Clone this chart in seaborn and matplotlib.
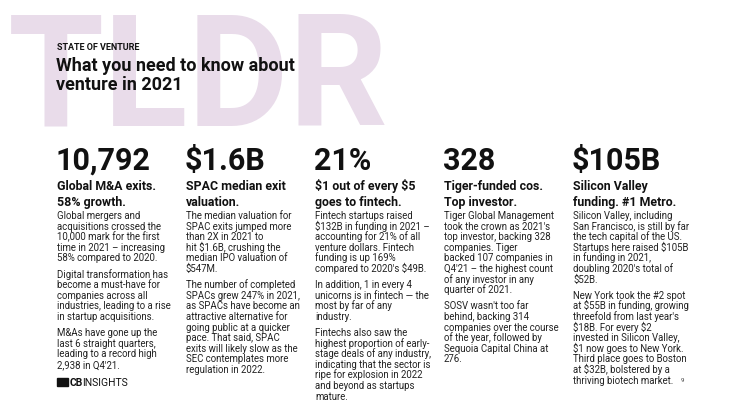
import matplotlib
matplotlib.use("Agg")
import matplotlib.pyplot as plt
import seaborn as sns

sns.set_theme(style="white")
plt.rcParams['font.family'] = ['Roboto', 'DejaVu Sans']
plt.rcParams['text.parse_math'] = False

kicker = "STATE OF VENTURE"
title_lines = ["What you need to know about", "venture in 2021"]
big_numbers = ["10,792", "$1.6B", "21%", "328", "$105B"]
headlines = [["Global M&A exits.", "58% growth."],
             ["SPAC median exit", "valuation."],
             ["$1 out of every $5", "goes to fintech."],
             ["Tiger-funded cos.", "Top investor."],
             ["Silicon Valley", "funding. #1 Metro."]]
bodies = [
    [["Global mergers and", "acquisitions crossed the", "10,000 mark for the first", "time in 2021 – increasing", "58% compared to 2020."],
     ["Digital transformation has", "become a must-have for", "companies across all", "industries, leading to a rise", "in startup acquisitions."],
     ["M&As have gone up the", "last 6 straight quarters,", "leading to a record high", "2,938 in Q4'21."]],
    [["The median valuation for", "SPAC exits jumped more", "than 2X in 2021 to", "hit $1.6B, crushing the", "median IPO valuation of", "$547M."],
     ["The number of completed", "SPACs grew 247% in 2021,", "as SPACs have become an", "attractive alternative for", "going public at a quicker", "pace. That said, SPAC", "exits will likely slow as the", "SEC contemplates more", "regulation in 2022."]],
    [["Fintech startups raised", "$132B in funding in 2021 –", "accounting for 21% of all", "venture dollars. Fintech", "funding is up 169%", "compared to 2020's $49B."],
     ["In addition, 1 in every 4", "unicorns is in fintech — the", "most by far of any", "industry."],
     ["Fintechs also saw the", "highest proportion of early-", "stage deals of any industry,", "indicating that the sector is", "ripe for explosion in 2022", "and beyond as startups", "mature."]],
    [["Tiger Global Management", "took the crown as 2021's", "top investor, backing 328", "companies. Tiger", "backed 107 companies in", "Q4'21 – the highest count", "of any investor in any", "quarter of 2021."],
     ["SOSV wasn't too far", "behind, backing 314", "companies over the course", "of the year, followed by", "Sequoia Capital China at", "276."]],
    [["Silicon Valley, including", "San Francisco, is still by far", "the tech capital of the US.", "Startups here raised $105B", "in funding in 2021,", "doubling 2020's total of", "$52B."],
     ["New York took the #2 spot", "at $55B in funding, growing", "threefold from last year's", "$18B. For every $2", "invested in Silicon Valley,", "$1 now goes to New York.", "Third place goes to Boston", "at $32B, bolstered by a", "thriving biotech market."]],
]
col_x = [57, 186, 315, 444, 573]

W, H = 740, 420
fig = plt.figure(figsize=(7.4, 4.2), dpi=100)
ax = fig.add_axes([0, 0, 1, 1])
ax.set_xlim(0, W)
ax.set_ylim(H, 0)
ax.axis("off")

ax.text(8, 125, "TLDR", fontsize=112, fontweight="bold", color="#e9dcea",
        va="baseline", ha="left", zorder=0)
ax.text(57, 50, kicker, fontsize=6.5, fontweight="bold", color="#111", va="baseline")
for i, t in enumerate(title_lines):
    ax.text(56, 71 + i * 19, t, fontsize=13, fontweight="bold", color="#111", va="baseline")

for c, x in enumerate(col_x):
    ax.text(x - 1, 170, big_numbers[c], fontsize=22, fontweight="bold", color="#111", va="baseline")
    for i, h in enumerate(headlines[c]):
        ax.text(x, 190 + i * 16, h, fontsize=8.9, fontweight="bold", color="#111", va="baseline")
    y = 219
    for p in bodies[c]:
        for line in p:
            ax.text(x, y, line, fontsize=6.9, color="#222", va="baseline")
            y += 10.6
        y += 5.5

ax.add_patch(plt.Rectangle((57, 378), 11, 8, color="#111"))
ax.text(70, 386, "CB", fontsize=7.5, fontweight="bold", color="#111", va="baseline")
ax.text(82, 386, "INSIGHTS", fontsize=7.5, color="#111", va="baseline")
ax.text(681, 382, "9", fontsize=4.5, color="#444", va="baseline")

fig.savefig("out.png", dpi=100, facecolor="white")
